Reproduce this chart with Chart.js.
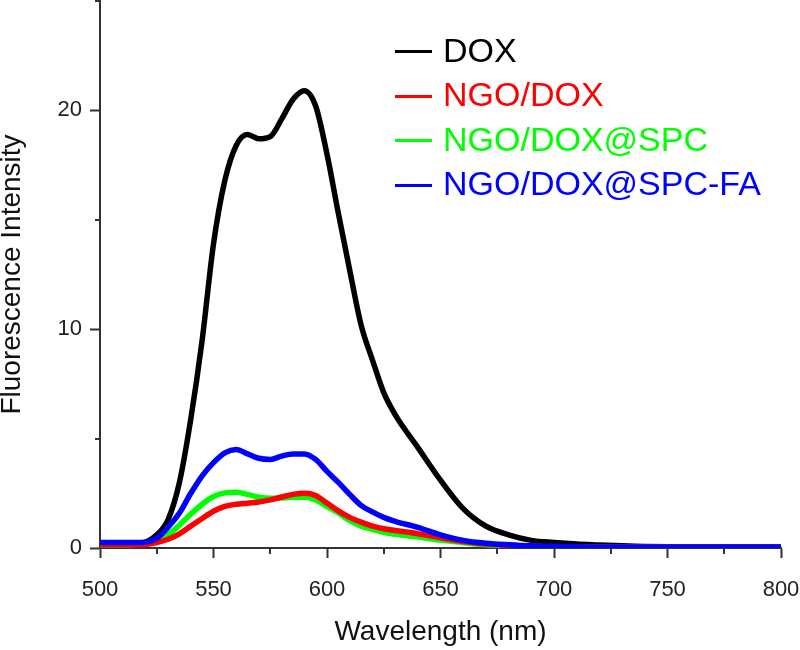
<!DOCTYPE html>
<html>
<head>
<meta charset="utf-8">
<script src="https://cdn.jsdelivr.net/npm/chart.js@4/dist/chart.umd.min.js"></script>
<style>
  html, body { margin: 0; padding: 0; background: #fff; }
  #wrap { position: relative; width: 800px; height: 650px; }
  #legend { position: absolute; left: 395px; top: 28px; font-family: "Liberation Sans", Arial, sans-serif; font-size: 34px; }
  #legend .row { display: flex; align-items: center; height: 44.5px; }
  #legend .swatch { width: 37px; height: 3px; margin-right: 11px; margin-top: 3px; }
</style>
</head>
<body>
<div id="wrap">
  <canvas id="c" width="800" height="650"></canvas>
  <div id="legend"></div>
</div>
<script>
// wavelength (nm)
const wavelengths = [500, 510, 518, 525, 530, 535, 540, 545, 550, 555, 560, 565, 570, 575, 580, 585, 590, 595, 600, 605, 610, 615, 620, 625, 630,
  640, 650, 660, 670, 680, 690, 700, 710, 720, 730, 740, 760, 780, 800];

const dox = [0.2, 0.2, 0.22, 0.6, 1.3, 3.0, 5.9, 9.5, 13.9, 16.8, 18.4, 18.9, 18.7, 18.8, 19.6, 20.5, 20.9, 20.2, 18.0, 15.3, 12.7, 10.2, 8.6, 7.1, 6.1,
  4.6, 3.1, 1.8, 1.0, 0.6, 0.35, 0.25, 0.18, 0.14, 0.1, 0.07, 0.05, 0.05, 0.05];
const ngoDox = [0.15, 0.15, 0.15, 0.25, 0.4, 0.65, 1.0, 1.35, 1.68, 1.9, 2.0, 2.05, 2.1, 2.2, 2.33, 2.45, 2.5, 2.4, 2.05, 1.7, 1.4, 1.18, 1.0, 0.88, 0.8,
  0.65, 0.47, 0.3, 0.18, 0.12, 0.08, 0.06, 0.05, 0.05, 0.05, 0.05, 0.05, 0.05, 0.05];
const ngoDoxSpc = [0.15, 0.15, 0.18, 0.35, 0.6, 1.05, 1.55, 2.0, 2.35, 2.52, 2.55, 2.45, 2.32, 2.27, 2.28, 2.32, 2.32, 2.2, 1.9, 1.6, 1.25, 1.0, 0.85, 0.72, 0.63,
  0.5, 0.36, 0.24, 0.15, 0.1, 0.07, 0.05, 0.05, 0.05, 0.05, 0.05, 0.05, 0.05, 0.05];
const ngoDoxSpcFa = [0.25, 0.25, 0.25, 0.45, 0.95, 1.6, 2.5, 3.3, 3.9, 4.35, 4.5, 4.3, 4.1, 4.05, 4.2, 4.3, 4.3, 4.05, 3.5, 3.0, 2.45, 1.95, 1.65, 1.4, 1.22,
  0.94, 0.6, 0.35, 0.22, 0.15, 0.1, 0.08, 0.06, 0.05, 0.05, 0.05, 0.05, 0.05, 0.05];

const seriesNames = ['DOX', 'NGO/DOX', 'NGO/DOX@SPC', 'NGO/DOX@SPC-FA'];
const seriesColors = ['#000000', '#ff0000', '#00ff00', '#0000ff'];
const seriesValues = [dox, ngoDox, ngoDoxSpc, ngoDoxSpcFa];
const drawOrder = [3, 1, 2, 0]; // blue on top

const FONT = '"Liberation Sans", Arial, sans-serif';
const AXIS = '#333333';

// short outward ticks for the unlabelled (minor) positions
const minorTicks = {
  id: 'minorTicks',
  afterDraw(chart) {
    const ctx = chart.ctx, area = chart.chartArea;
    ctx.save();
    ctx.strokeStyle = AXIS;
    ctx.lineWidth = 2;
    chart.scales.x.ticks.forEach(t => {
      if (t.value % 50 === 0) return;
      const px = Math.round(chart.scales.x.getPixelForValue(t.value));
      ctx.beginPath(); ctx.moveTo(px, area.bottom); ctx.lineTo(px, area.bottom + 6); ctx.stroke();
    });
    chart.scales.y.ticks.forEach(t => {
      if (t.value % 10 === 0) return;
      const py = Math.round(chart.scales.y.getPixelForValue(t.value));
      ctx.beginPath(); ctx.moveTo(area.left, py); ctx.lineTo(area.left - 5, py); ctx.stroke();
    });
    ctx.restore();
  }
};

new Chart(document.getElementById('c'), {
  type: 'line',
  data: {
    labels: wavelengths,
    datasets: seriesNames.map((name, i) => ({
      label: name,
      data: wavelengths.map((w, j) => ({ x: w, y: seriesValues[i][j] })),
      borderColor: seriesColors[i],
      borderWidth: 5.5,
      pointRadius: 0,
      fill: false,
      cubicInterpolationMode: 'monotone',
      order: drawOrder[i]
    }))
  },
  options: {
    responsive: false,
    animation: false,
    layout: { padding: { top: 1, right: 19, left: 0, bottom: 0 } },
    plugins: { legend: { display: false }, tooltip: { enabled: false } },
    scales: {
      x: {
        type: 'linear', min: 500, max: 800,
        afterFit: s => { s.height = 102; s.paddingLeft = 0; s.paddingRight = 0; },
        grid: {
          drawOnChartArea: false, tickLength: 10, tickWidth: 2,
          tickColor: c => (c.tick && c.tick.value % 50 === 0) ? AXIS : 'rgba(0,0,0,0)'
        },
        border: { color: AXIS, width: 2 },
        ticks: {
          stepSize: 25, padding: 19, color: '#222', maxRotation: 0, autoSkip: false,
          font: { family: FONT, size: 22 },
          callback: v => v % 50 === 0 ? v : ''
        },
        title: {
          display: true, text: 'Wavelength (nm)', color: '#111',
          font: { family: FONT, size: 28 }, padding: { top: 0, bottom: 1 }
        }
      },
      y: {
        min: 0, max: 25,
        afterFit: s => { s.width = 100; s.paddingTop = 0; s.paddingBottom = 0; },
        grid: {
          drawOnChartArea: false, tickLength: 10, tickWidth: 2,
          tickColor: c => (c.tick && c.tick.value % 10 === 0) ? AXIS : 'rgba(0,0,0,0)'
        },
        border: { color: AXIS, width: 2 },
        ticks: {
          stepSize: 5, padding: 8, color: '#222', autoSkip: false,
          font: { family: FONT, size: 22 },
          callback: v => v % 10 === 0 ? v : ''
        },
        title: {
          display: true, text: 'Fluorescence Intensity', color: '#111',
          font: { family: FONT, size: 28, lineHeight: 0.9 }, padding: { top: 0, bottom: 0 }
        }
      }
    }
  },
  plugins: [minorTicks]
});

// legend inside the plot, top right
const legend = document.getElementById('legend');
seriesNames.forEach((name, i) => {
  const row = document.createElement('div');
  row.className = 'row';
  row.innerHTML = `<span class="swatch" style="background:${seriesColors[i]}"></span><span style="color:${seriesColors[i]}">${name}</span>`;
  legend.appendChild(row);
});
</script>
</body>
</html>
